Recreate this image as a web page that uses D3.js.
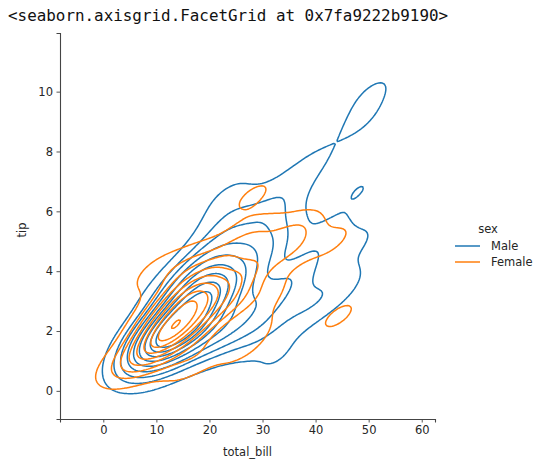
<!DOCTYPE html>
<html>
<head>
<meta charset="utf-8">
<script src="https://cdn.jsdelivr.net/npm/d3@7"></script>
<style>
  html, body { margin: 0; padding: 0; background: #fff; }
  svg { display: block; }
</style>
</head>
<body>
<svg id="chart" width="541" height="460"></svg>
<script>
// seaborn "tips" dataset (244 rows), 10 values per line
const totalBill = [
  16.99,10.34,21.01,23.68,24.59,25.29,8.77,26.88,15.04,14.78,
  10.27,35.26,15.42,18.43,14.83,21.58,10.33,16.29,16.97,20.65,
  17.92,20.29,15.77,39.42,19.82,17.81,13.37,12.69,21.7,19.65,
  9.55,18.35,15.06,20.69,17.78,24.06,16.31,16.93,18.69,31.27,
  16.04,17.46,13.94,9.68,30.4,18.29,22.23,32.4,28.55,18.04,
  12.54,10.29,34.81,9.94,25.56,19.49,38.01,26.41,11.24,48.27,
  20.29,13.81,11.02,18.29,17.59,20.08,16.45,3.07,20.23,15.01,
  12.02,17.07,26.86,25.28,14.73,10.51,17.92,27.2,22.76,17.29,
  19.44,16.66,10.07,32.68,15.98,34.83,13.03,18.28,24.71,21.16,
  28.97,22.49,5.75,16.32,22.75,40.17,27.28,12.03,21.01,12.46,
  11.35,15.38,44.3,22.42,20.92,15.36,20.49,25.21,18.24,14.31,
  14.0,7.25,38.07,23.95,25.71,17.31,29.93,10.65,12.43,24.08,
  11.69,13.42,14.26,15.95,12.48,29.8,8.52,14.52,11.38,22.82,
  19.08,20.27,11.17,12.26,18.26,8.51,10.33,14.15,16.0,13.16,
  17.47,34.3,41.19,27.05,16.43,8.35,18.64,11.87,9.78,7.51,
  14.07,13.13,17.26,24.55,19.77,29.85,48.17,25.0,13.39,16.49,
  21.5,12.66,16.21,13.81,17.51,24.52,20.76,31.71,10.59,10.63,
  50.81,15.81,7.25,31.85,16.82,32.9,17.89,14.48,9.6,34.63,
  34.65,23.33,45.35,23.17,40.55,20.69,20.9,30.46,18.15,23.1,
  15.69,19.81,28.44,15.48,16.58,7.56,10.34,43.11,13.0,13.51,
  18.71,12.74,13.0,16.4,20.53,16.47,26.59,38.73,24.27,12.76,
  30.06,25.89,48.33,13.27,28.17,12.9,28.15,11.59,7.74,30.14,
  12.16,13.42,8.58,15.98,13.42,16.27,10.09,20.45,13.28,22.12,
  24.01,15.69,11.61,10.77,15.53,10.07,12.6,32.83,35.83,29.03,
  27.18,22.67,17.82,18.78
];
const tip = [
  1.01,1.66,3.5,3.31,3.61,4.71,2.0,3.12,1.96,3.23,
  1.71,5.0,1.57,3.0,3.02,3.92,1.67,3.71,3.5,3.35,
  4.08,2.75,2.23,7.58,3.18,2.34,2.0,2.0,4.3,3.0,
  1.45,2.5,3.0,2.45,3.27,3.6,2.0,3.07,2.31,5.0,
  2.24,2.54,3.06,1.32,5.6,3.0,5.0,6.0,2.05,3.0,
  2.5,2.6,5.2,1.56,4.34,3.51,3.0,1.5,1.76,6.73,
  3.21,2.0,1.98,3.76,2.64,3.15,2.47,1.0,2.01,2.09,
  1.97,3.0,3.14,5.0,2.2,1.25,3.08,4.0,3.0,2.71,
  3.0,3.4,1.83,5.0,2.03,5.17,2.0,4.0,5.85,3.0,
  3.0,3.5,1.0,4.3,3.25,4.73,4.0,1.5,3.0,1.5,
  2.5,3.0,2.5,3.48,4.08,1.64,4.06,4.29,3.76,4.0,
  3.0,1.0,4.0,2.55,4.0,3.5,5.07,1.5,1.8,2.92,
  2.31,1.68,2.5,2.0,2.52,4.2,1.48,2.0,2.0,2.18,
  1.5,2.83,1.5,2.0,3.25,1.25,2.0,2.0,2.0,2.75,
  3.5,6.7,5.0,5.0,2.3,1.5,1.36,1.63,1.73,2.0,
  2.5,2.0,2.74,2.0,2.0,5.14,5.0,3.75,2.61,2.0,
  3.5,2.5,2.0,2.0,3.0,3.48,2.24,4.5,1.61,2.0,
  10.0,3.16,5.15,3.18,4.0,3.11,2.0,2.0,4.0,3.55,
  3.68,5.65,3.5,6.5,3.0,5.0,3.5,2.0,3.5,4.0,
  1.5,4.19,2.56,2.02,4.0,1.44,2.0,5.0,2.0,2.0,
  4.0,2.01,2.0,2.5,4.0,3.23,3.41,3.0,2.03,2.23,
  2.0,5.16,9.0,2.5,6.5,1.1,3.0,1.5,1.44,3.09,
  2.2,3.48,1.92,3.0,1.58,2.5,2.0,3.0,2.72,2.88,
  2.0,3.0,3.39,1.47,3.0,1.25,1.0,1.17,4.67,5.92,
  2.0,2.0,1.75,3.0
];
// sex: M = Male, F = Female
const sexCode = [
  "F","M","M","M","F","M","M","M","M","M",
  "M","F","M","M","F","M","F","M","F","M",
  "M","F","F","M","M","M","M","M","M","F",
  "M","M","F","F","M","M","M","F","M","M",
  "M","M","M","M","M","M","M","M","M","M",
  "M","F","F","M","M","M","M","F","M","M",
  "M","M","M","M","M","M","F","F","M","M",
  "M","F","F","F","F","M","M","M","M","M",
  "M","M","F","M","M","F","M","M","M","M",
  "M","M","F","F","F","M","M","M","M","M",
  "F","F","F","F","F","M","M","M","M","F",
  "M","F","M","M","F","F","M","F","F","F",
  "M","F","M","M","F","F","M","F","F","M",
  "M","F","F","F","F","F","F","F","M","F",
  "F","M","M","F","F","F","F","F","M","M",
  "M","M","M","M","M","F","M","F","F","M",
  "M","M","F","M","F","M","M","M","F","F",
  "M","M","M","M","M","M","M","M","F","M",
  "M","M","M","M","M","M","F","M","F","M",
  "M","F","M","M","M","M","M","F","F","M",
  "M","F","F","F","M","F","M","M","M","F",
  "M","M","M","F","F","F","M","M","M","F",
  "M","F","M","F","M","F","F","M","M","F",
  "M","M","M","M","M","M","M","M","F","M",
  "F","M","M","F"
];

const hueOrder = ["Male", "Female"];
const hueCodes = ["M", "F"];
const hueColors = ["#1f77b4", "#ff7f0e"];
const xTicks = [0, 10, 20, 30, 40, 50, 60];
const yTicks = [0, 2, 4, 6, 8, 10];
const xDomain = [-8.16, 62.5];
const yDomain = [-0.94, 11.96];

const svg = d3.select("#chart");
const mLeft = 60, mRight = 435, mTop = 33, mBottom = 419;

// header text (notebook output)
svg.append("text")
  .attr("x", 8).attr("y", 21)
  .attr("font-family", "'DejaVu Sans Mono', 'Liberation Mono', monospace")
  .attr("font-size", 15.9)
  .attr("fill", "#111")
  .text("<seaborn.axisgrid.FacetGrid at 0x7fa9222b9190>");

const x = d3.scaleLinear().domain(xDomain).range([mLeft, mRight]);
const y = d3.scaleLinear().domain(yDomain).range([mBottom, mTop]);

// ---- KDE (scipy gaussian_kde with Scott's rule, seaborn-style levels) ----
const G = 200, cut = 3;
const N = totalBill.length;
const groups = hueCodes.map(code => {
  const idx = d3.range(N).filter(i => sexCode[i] === code);
  const xs = idx.map(i => totalBill[i]), ys = idx.map(i => tip[i]);
  const n = xs.length;
  const mx = d3.mean(xs), my = d3.mean(ys);
  let sxx = 0, syy = 0, sxy = 0;
  for (let i = 0; i < n; i++) {
    const dx = xs[i] - mx, dy = ys[i] - my;
    sxx += dx * dx; syy += dy * dy; sxy += dx * dy;
  }
  sxx /= (n - 1); syy /= (n - 1); sxy /= (n - 1);
  const f2 = Math.pow(n, -2 / 6);
  const a = sxx * f2, b = sxy * f2, d = syy * f2;
  const det = a * d - b * b;
  const ia = d / det, ib = -b / det, id = a / det;
  const norm = 1 / (2 * Math.PI * Math.sqrt(det));
  const bwx = Math.sqrt(a), bwy = Math.sqrt(d);
  const x0 = d3.min(xs) - cut * bwx, x1 = d3.max(xs) + cut * bwx;
  const y0 = d3.min(ys) - cut * bwy, y1 = d3.max(ys) + cut * bwy;
  const stx = (x1 - x0) / (G - 1), sty = (y1 - y0) / (G - 1);
  const vals = new Float64Array(G * G);
  const w = (n / N) / n * norm;
  for (let j = 0; j < G; j++) {
    const gy = y0 + j * sty;
    for (let i = 0; i < G; i++) {
      const gx = x0 + i * stx;
      let s = 0;
      for (let k = 0; k < n; k++) {
        const dx = gx - xs[k], dy = gy - ys[k];
        s += Math.exp(-0.5 * (ia * dx * dx + 2 * ib * dx * dy + id * dy * dy));
      }
      vals[j * G + i] = s * w;
    }
  }
  return { x0, y0, stx, sty, vals, max: d3.max(vals) };
});

// iso-proportion levels (common_norm)
const allVals = [];
groups.forEach(g => g.vals.forEach(v => allVals.push(v)));
const sortedVals = allVals.slice().sort((p, q) => q - p);
const totalVal = d3.sum(sortedVals);
const cum = new Float64Array(sortedVals.length);
let acc = 0;
for (let i = 0; i < sortedVals.length; i++) { acc += sortedVals[i]; cum[i] = acc / totalVal; }
const isoprops = d3.range(10).map(i => 0.05 + i * (0.95 / 9));
const levels = isoprops.map(p => {
  const t = 1 - p;
  const i = d3.bisectLeft(cum, t);
  return sortedVals[Math.min(i, sortedVals.length - 1)];
});

const plot = svg.append("g");
groups.forEach((g, gi) => {
  const th = levels.filter(l => l < g.max);
  const contours = d3.contours().size([G, G]).thresholds(th)(Array.from(g.vals));
  const proj = d3.geoTransform({
    point: function (px, py) {
      this.stream.point(x(g.x0 + (px - 0.5) * g.stx), y(g.y0 + (py - 0.5) * g.sty));
    }
  });
  const path = d3.geoPath(proj);
  plot.append("g")
    .selectAll("path").data(contours).join("path")
    .attr("d", path)
    .attr("fill", "none")
    .attr("stroke", hueColors[gi])
    .attr("stroke-width", 1.5)
    .attr("stroke-linejoin", "round");
});

// axes
const font = "'DejaVu Sans', sans-serif";
const xAxis = svg.append("g").attr("transform", `translate(0,${mBottom})`)
  .call(d3.axisBottom(x).tickValues(xTicks).tickSizeOuter(0).tickSize(3.5).tickPadding(3.5));
const yAxis = svg.append("g").attr("transform", `translate(${mLeft},0)`)
  .call(d3.axisLeft(y).tickValues(yTicks).tickSizeOuter(0).tickSize(3.5).tickPadding(3.5));
[xAxis, yAxis].forEach(a => {
  a.select(".domain").attr("stroke", "#444").attr("stroke-width", 1.1);
  a.selectAll(".tick line").attr("stroke", "#444").attr("stroke-width", 0.9);
  a.selectAll(".tick text").attr("font-family", font).attr("font-size", 11.5).attr("fill", "#262626");
});

svg.append("text").attr("x", (mLeft + mRight) / 2).attr("y", 456)
  .attr("text-anchor", "middle").attr("font-family", font).attr("font-size", 11.5)
  .attr("fill", "#262626").text("total_bill");
svg.append("text").attr("transform", `translate(26,${(mTop + mBottom) / 2 + 4}) rotate(-90)`)
  .attr("text-anchor", "middle").attr("font-family", font).attr("font-size", 11.5)
  .attr("fill", "#262626").text("tip");

// legend
const lg = svg.append("g");
lg.append("text").attr("x", 488).attr("y", 233).attr("text-anchor", "middle")
  .attr("font-family", font).attr("font-size", 11.5).attr("fill", "#262626").text("sex");
hueOrder.forEach((h, i) => {
  const ly = 246 + i * 16;
  lg.append("line").attr("x1", 455).attr("x2", 480).attr("y1", ly).attr("y2", ly)
    .attr("stroke", hueColors[i]).attr("stroke-width", 1.5);
  lg.append("text").attr("x", 491).attr("y", ly + 4)
    .attr("font-family", font).attr("font-size", 11.5).attr("fill", "#262626").text(h);
});
</script>
</body>
</html>
